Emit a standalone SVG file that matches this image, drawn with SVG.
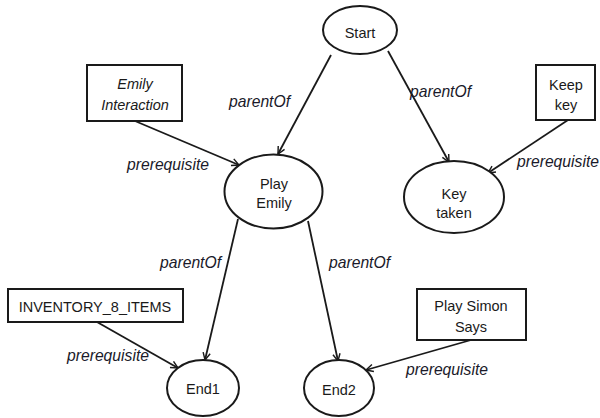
<svg xmlns="http://www.w3.org/2000/svg" width="600" height="418" viewBox="0 0 600 418">
<style>
.n{fill:#fff;stroke:#1a1a1a;stroke-width:2}
.t{font-family:"Liberation Sans",Arial,sans-serif;font-size:14.5px;fill:#1a1a1a;text-anchor:middle}
.ti{font-style:italic}
.l{font-family:"Liberation Sans",Arial,sans-serif;font-size:15.7px;font-style:italic;fill:#1a1a2a}
.e{fill:none;stroke:#1a1a1a;stroke-width:1.8;marker-end:url(#a)}
</style>
<defs>
<marker id="a" viewBox="0 0 10 10" refX="9" refY="5" markerWidth="9" markerHeight="9" markerUnits="userSpaceOnUse" orient="auto">
<path d="M1,1 L9,5 L1,9" fill="none" stroke="#1a1a1a" stroke-width="1.6"/>
</marker>
</defs>
<rect width="600" height="418" fill="#fff"/>
<g id="connectors">
<line class="e" x1="331" y1="55" x2="278" y2="154"/>
<line class="e" x1="388" y1="51" x2="449" y2="162"/>
<line class="e" x1="568" y1="120" x2="488" y2="173"/>
<line class="e" x1="135" y1="121" x2="239" y2="165"/>
<line class="e" x1="238" y1="219" x2="205" y2="360"/>
<line class="e" x1="308" y1="221" x2="338" y2="361"/>
<line class="e" x1="97" y1="322" x2="178" y2="368"/>
<line class="e" x1="471" y1="340" x2="366" y2="370"/>
<text class="l" x="229" y="107">parentOf</text>
<text class="l" x="410" y="97">parentOf</text>
<text class="l" x="127" y="170">prerequisite</text>
<text class="l" x="517" y="167">prerequisite</text>
<text class="l" x="160" y="268">parentOf</text>
<text class="l" x="329" y="268">parentOf</text>
<text class="l" x="67" y="361">prerequisite</text>
<text class="l" x="406" y="375">prerequisite</text>
</g>
<g id="start">
<ellipse class="n" cx="360" cy="30" rx="37" ry="24"/>
<text class="t" x="360" y="38">Start</text>
</g>
<g id="keep-key">
<rect class="n" x="536" y="65" width="59" height="55"/>
<text class="t" x="566" y="90">Keep</text>
<text class="t" x="566" y="110">key</text>
</g>
<g id="key-taken">
<ellipse class="n" cx="454" cy="197" rx="50" ry="36"/>
<text class="t" x="454" y="199">Key</text>
<text class="t" x="454" y="218">taken</text>
</g>
<g id="emily-interaction">
<rect class="n" x="87" y="65" width="95" height="56"/>
<text class="t ti" x="135" y="89">Emily</text>
<text class="t ti" x="135" y="110">Interaction</text>
</g>
<g id="play-emily">
<ellipse class="n" cx="273.5" cy="191.5" rx="49" ry="37"/>
<text class="t" x="274" y="189">Play</text>
<text class="t" x="274" y="208">Emily</text>
</g>
<g id="inventory">
<rect class="n" x="8" y="289" width="175" height="33"/>
<text class="t" x="95" y="312">INVENTORY_8_ITEMS</text>
</g>
<g id="end1">
<ellipse class="n" cx="203" cy="388" rx="36" ry="28"/>
<text class="t" x="203" y="394">End1</text>
</g>
<g id="end2">
<ellipse class="n" cx="339" cy="388" rx="35" ry="28"/>
<text class="t" x="339" y="395">End2</text>
</g>
<g id="play-simon">
<rect class="n" x="417" y="289" width="109" height="51"/>
<text class="t" x="471" y="311">Play Simon</text>
<text class="t" x="471" y="332">Says</text>
</g>
</svg>
